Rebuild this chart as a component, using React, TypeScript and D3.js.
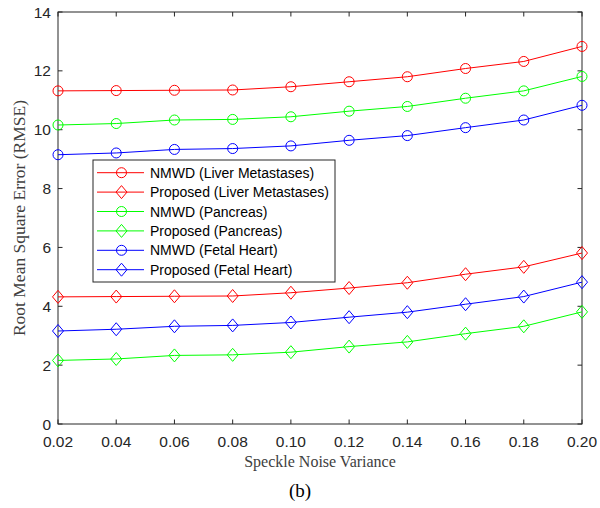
import React from "react";
import * as d3 from "d3";

const xValues = [0.02, 0.04, 0.06, 0.08, 0.1, 0.12, 0.14, 0.16, 0.18, 0.2];
const nmwdLiver = [11.32, 11.33, 11.34, 11.35, 11.46, 11.63, 11.8, 12.08, 12.32, 12.83];
const proposedLiver = [4.32, 4.33, 4.34, 4.35, 4.46, 4.62, 4.8, 5.09, 5.34, 5.81];
const nmwdPancreas = [10.16, 10.21, 10.33, 10.35, 10.44, 10.63, 10.79, 11.07, 11.32, 11.81];
const proposedPancreas = [2.16, 2.21, 2.33, 2.35, 2.44, 2.63, 2.79, 3.07, 3.32, 3.81];
const nmwdFetal = [9.15, 9.21, 9.33, 9.36, 9.45, 9.64, 9.8, 10.07, 10.33, 10.83];
const proposedFetal = [3.16, 3.22, 3.32, 3.35, 3.45, 3.63, 3.8, 4.07, 4.33, 4.82];

const seriesNames = [
  "NMWD (Liver Metastases)",
  "Proposed (Liver Metastases)",
  "NMWD (Pancreas)",
  "Proposed (Pancreas)",
  "NMWD (Fetal Heart)",
  "Proposed (Fetal Heart)",
];
const seriesData = [nmwdLiver, proposedLiver, nmwdPancreas, proposedPancreas, nmwdFetal, proposedFetal];
const seriesColors = ["#ff0000", "#ff0000", "#00ff00", "#00ff00", "#0000ff", "#0000ff"];
const seriesMarkers = ["circle", "diamond", "circle", "diamond", "circle", "diamond"];

const yTicks = [0, 2, 4, 6, 8, 10, 12, 14];
const xTicks = [0.02, 0.04, 0.06, 0.08, 0.1, 0.12, 0.14, 0.16, 0.18, 0.2];

const W = 600;
const H = 508;
const left = 58;
const right = 582;
const top = 12;
const bottom = 424;
const axisColor = "#262626";

function Marker({ type, x, y, color }: { type: string; x: number; y: number; color: string }) {
  if (type === "circle") {
    return <circle cx={x} cy={y} r={5} fill="none" stroke={color} strokeWidth={1} />;
  }
  const dx = 5.5;
  const dy = 6.5;
  return (
    <path
      d={`M${x},${y - dy}L${x + dx},${y}L${x},${y + dy}L${x - dx},${y}Z`}
      fill="none"
      stroke={color}
      strokeWidth={1}
    />
  );
}

export default function App() {
  const x = d3.scaleLinear().domain([0.02, 0.2]).range([left, right]);
  const y = d3.scaleLinear().domain([0, 14]).range([bottom, top]);
  const line = d3
    .line<number>()
    .x((_, i) => x(xValues[i]))
    .y((d) => y(d));

  const legX = 93;
  const legY = 160;
  const legW = 242;
  const legH = 122;
  const rowH = 19.4;
  const firstRow = 172.7;

  return (
    <svg
      width={W}
      height={H}
      style={{ position: "absolute", left: 0, top: 0, display: "block", background: "#fff" }}
    >
      <rect x={0} y={0} width={W} height={H} fill="#fff" />
      <rect x={left} y={top} width={right - left} height={bottom - top} fill="none" stroke={axisColor} strokeWidth={1} />
      {xTicks.map((t, i) => (
        <g key={"xt" + i}>
          <line x1={x(t)} x2={x(t)} y1={bottom} y2={bottom - 4.5} stroke={axisColor} />
          <line x1={x(t)} x2={x(t)} y1={top} y2={top + 4.5} stroke={axisColor} />
          <text
            x={x(t)}
            y={447}
            textAnchor="middle"
            fontFamily="'Liberation Sans', Arial, sans-serif"
            fontSize={15.5}
            fill={axisColor}
          >
            {t.toFixed(2)}
          </text>
        </g>
      ))}
      {yTicks.map((t, i) => (
        <g key={"yt" + i}>
          <line x1={left} x2={left + 4.5} y1={y(t)} y2={y(t)} stroke={axisColor} />
          <line x1={right} x2={right - 4.5} y1={y(t)} y2={y(t)} stroke={axisColor} />
          <text
            x={51}
            y={y(t) + 5.5}
            textAnchor="end"
            fontFamily="'Liberation Sans', Arial, sans-serif"
            fontSize={15.5}
            fill={axisColor}
          >
            {t}
          </text>
        </g>
      ))}
      {seriesData.map((data, si) => (
        <g key={"s" + si}>
          <path d={line(data) || ""} fill="none" stroke={seriesColors[si]} strokeWidth={1} />
          {data.map((v, i) => (
            <Marker key={i} type={seriesMarkers[si]} x={x(xValues[i])} y={y(v)} color={seriesColors[si]} />
          ))}
        </g>
      ))}
      <rect x={legX} y={legY} width={legW} height={legH} fill="#fff" stroke={axisColor} strokeWidth={1} />
      {seriesNames.map((name, i) => {
        const ry = firstRow + i * rowH;
        return (
          <g key={"l" + i}>
            <line x1={97} x2={144} y1={ry} y2={ry} stroke={seriesColors[i]} strokeWidth={1} />
            <Marker type={seriesMarkers[i]} x={121.5} y={ry} color={seriesColors[i]} />
            <text
              x={150}
              y={ry + 5}
              fontFamily="'Liberation Sans', Arial, sans-serif"
              fontSize={14}
              fill="#000"
            >
              {name}
            </text>
          </g>
        );
      })}
      <text
        x={(left + right) / 2}
        y={467}
        textAnchor="middle"
        fontFamily="'Liberation Serif', 'Times New Roman', serif"
        fontSize={16}
        fill="#404040"
      >
        Speckle Noise Variance
      </text>
      <text
        transform={`translate(25,${(top + bottom) / 2}) rotate(-90)`}
        textAnchor="middle"
        fontFamily="'Liberation Serif', 'Times New Roman', serif"
        fontSize={17.5}
        fill="#404040"
      >
        Root Mean Square Error (RMSE)
      </text>
      <text
        x={300}
        y={497}
        textAnchor="middle"
        fontFamily="'Liberation Serif', 'Times New Roman', serif"
        fontSize={19}
        fill="#000"
      >
        (b)
      </text>
    </svg>
  );
}
